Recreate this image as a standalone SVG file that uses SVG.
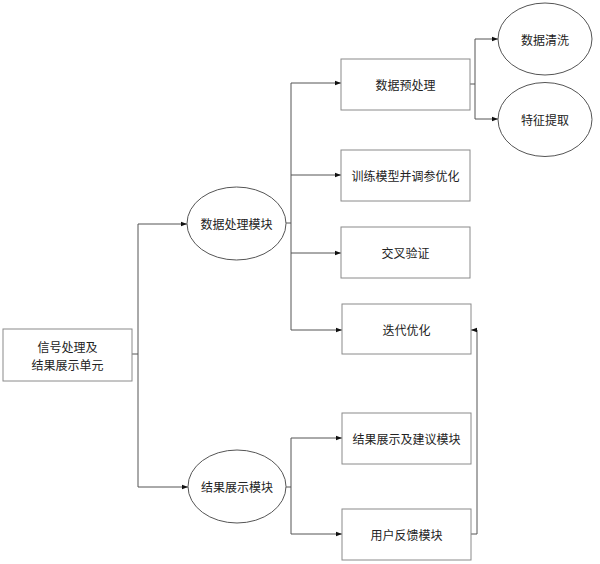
<svg xmlns="http://www.w3.org/2000/svg" width="600" height="564" viewBox="0 0 600 564">
<style>
.box{fill:#fff;stroke:#8a8a8a;stroke-width:1}
.ell{fill:#fff;stroke:#555;stroke-width:1}
.t{font-family:"Noto Sans CJK SC","Noto Sans",sans-serif;font-size:12px;fill:#222;text-anchor:middle;dominant-baseline:central}
.c{fill:none;stroke:#555;stroke-width:1}
.a{fill:none;stroke:#555;stroke-width:1;marker-end:url(#ah)}
</style>
<defs>
<marker id="ah" markerWidth="6" markerHeight="6" refX="6" refY="3" orient="auto" markerUnits="userSpaceOnUse">
<path d="M0,0.8 L6,3 L0,5.2 Z" fill="#111"/>
</marker>
</defs>
<rect width="600" height="564" fill="#fff"/>
<g id="connectors">
<path class="c" d="M132,354 H138 M138,224 V487"/>
<path class="a" d="M138,224 H187"/>
<path class="a" d="M138,487 H188"/>
<path class="c" d="M286,223 H291 M291,83 V330"/>
<path class="a" d="M291,83 H341"/>
<path class="a" d="M291,175 H341"/>
<path class="a" d="M291,253 H341"/>
<path class="a" d="M291,330 H342"/>
<path class="c" d="M470,84 H475 M475,39 V119"/>
<path class="a" d="M475,39 H498"/>
<path class="a" d="M475,119 H498"/>
<path class="c" d="M286,487 H291 M291,438 V534"/>
<path class="a" d="M291,438 H342"/>
<path class="a" d="M291,534 H342"/>
<path class="c" d="M471,534 H477 V330"/>
<path class="a" d="M477,330 H471"/>
</g>
<g id="n_root"><rect class="box" x="3" y="329" width="129" height="52"/><text class="t" x="67.5" y="346">信号处理及</text><text class="t" x="67.5" y="364">结果展示单元</text></g>
<g id="n_proc"><ellipse class="ell" cx="236.5" cy="223.5" rx="49.5" ry="36.5"/><text class="t" x="236.5" y="223.5">数据处理模块</text></g>
<g id="n_show"><ellipse class="ell" cx="237" cy="486.5" rx="49" ry="36.5"/><text class="t" x="237" y="486.5">结果展示模块</text></g>
<g id="n_pre"><rect class="box" x="341" y="59" width="129" height="51"/><text class="t" x="405.5" y="84.5">数据预处理</text></g>
<g id="n_train"><rect class="box" x="341" y="150" width="129" height="51"/><text class="t" x="405.5" y="175.5">训练模型并调参优化</text></g>
<g id="n_cv"><rect class="box" x="341" y="227" width="129" height="51"/><text class="t" x="405.5" y="252.5">交叉验证</text></g>
<g id="n_iter"><rect class="box" x="342" y="304" width="129" height="50"/><text class="t" x="406.5" y="329">迭代优化</text></g>
<g id="n_clean"><ellipse class="ell" cx="545" cy="39" rx="47" ry="36"/><text class="t" x="545" y="39">数据清洗</text></g>
<g id="n_feat"><ellipse class="ell" cx="545" cy="119.5" rx="47" ry="37"/><text class="t" x="545" y="119.5">特征提取</text></g>
<g id="n_result"><rect class="box" x="342" y="413" width="129" height="51"/><text class="t" x="406.5" y="438.5">结果展示及建议模块</text></g>
<g id="n_feedback"><rect class="box" x="342" y="509" width="129" height="51"/><text class="t" x="406.5" y="534.5">用户反馈模块</text></g>
</svg>
